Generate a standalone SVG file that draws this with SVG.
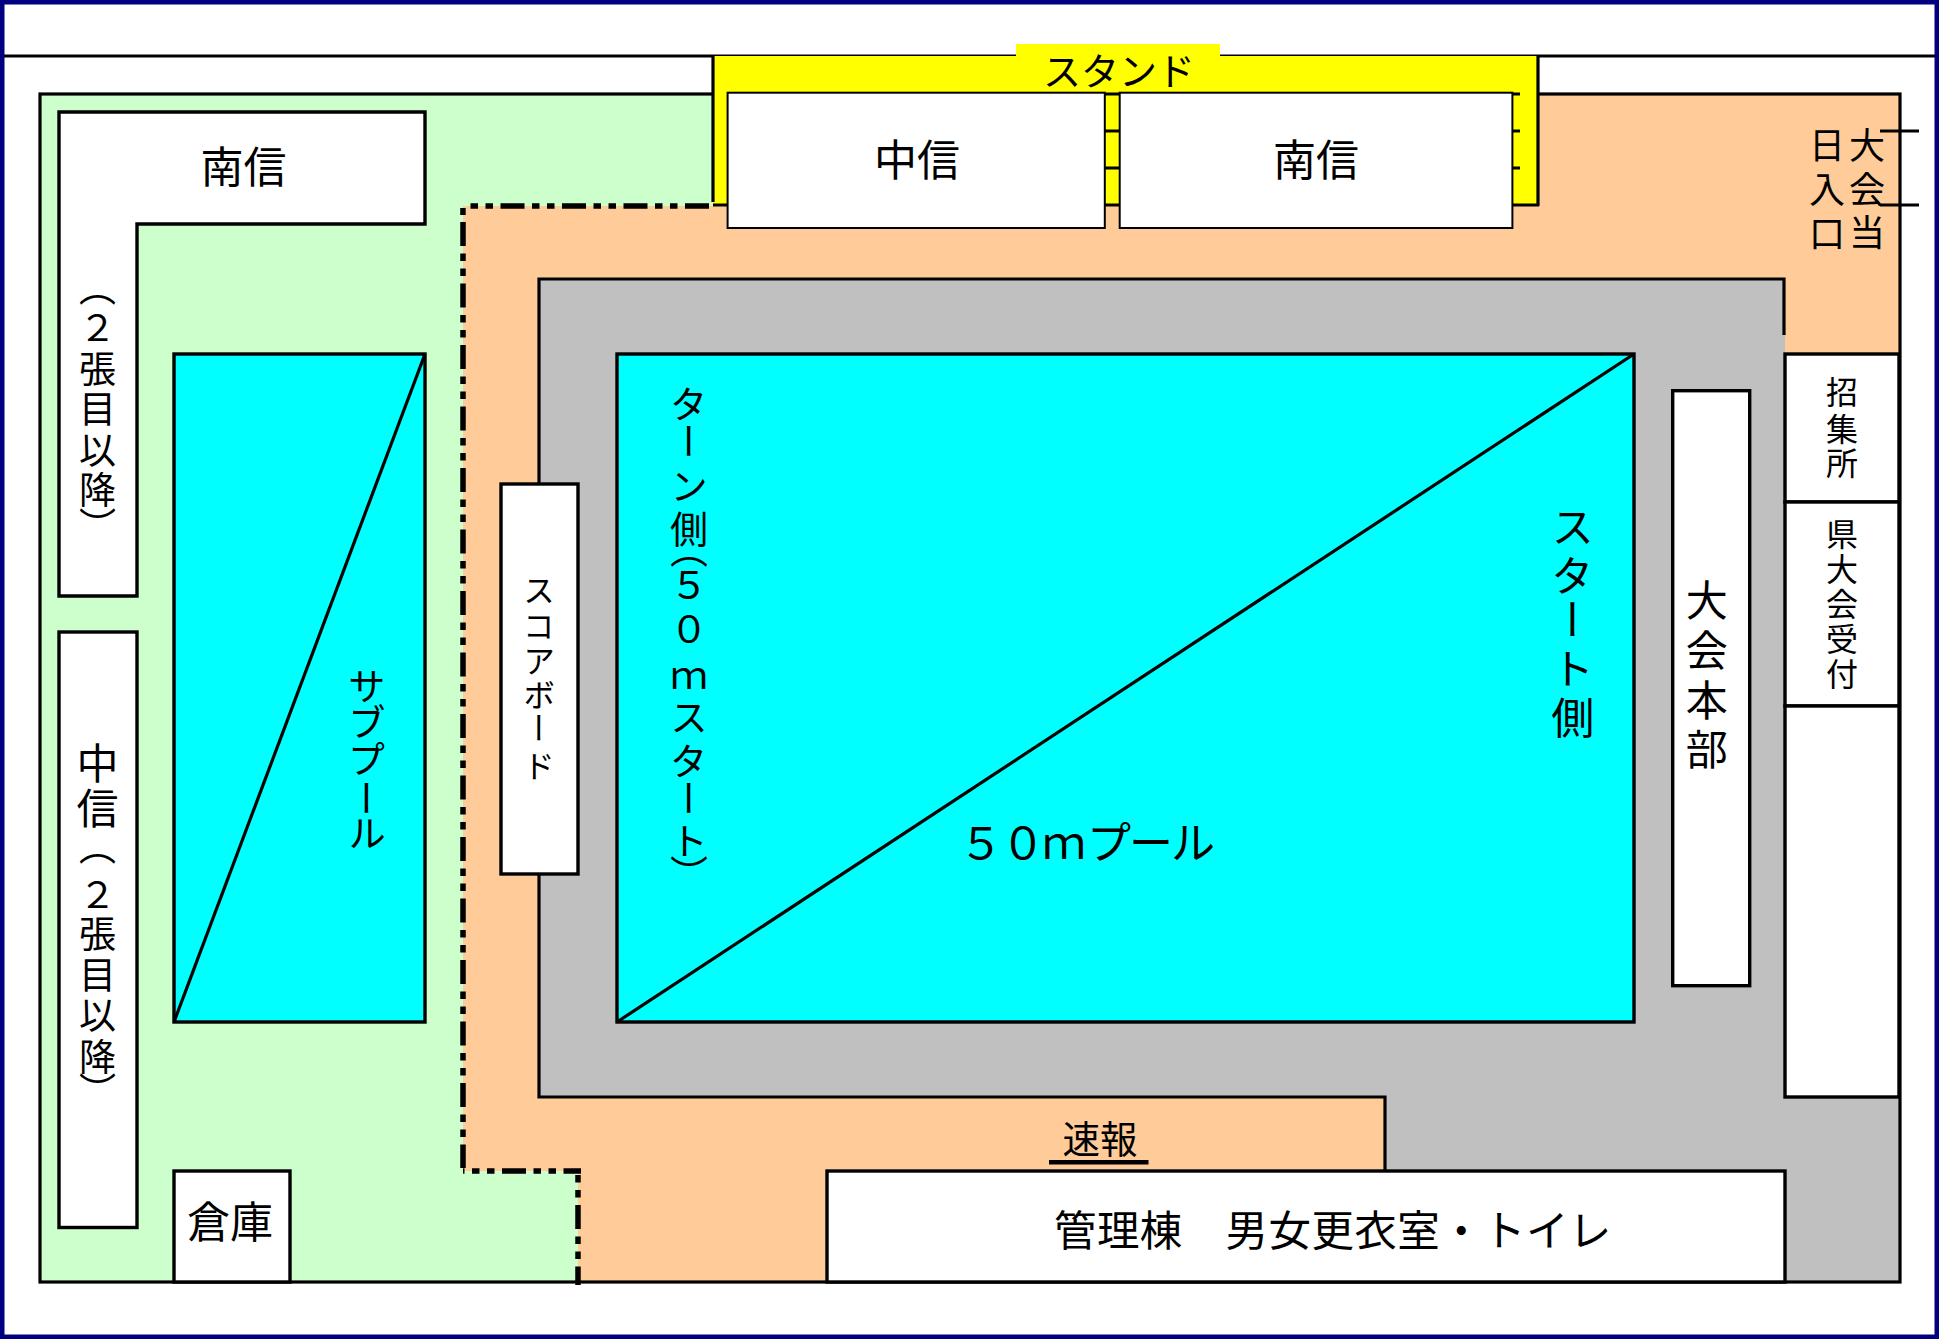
<svg xmlns="http://www.w3.org/2000/svg" width="1939" height="1339" viewBox="0 0 1939 1339">
<style>
text{font-family:"Noto Sans CJK JP","Noto Sans",sans-serif;fill:#000}
.v{writing-mode:vertical-rl}
.m{text-anchor:middle}
.b{stroke:#000;stroke-width:3.4;fill:#fff}
.t{stroke:#000;stroke-width:2;fill:#fff}
.p{stroke:#000;stroke-width:3.4;fill:#0ff}
.l{stroke:#000;stroke-width:3.2;fill:none}
.d{stroke:#000;stroke-width:5.5;fill:none;stroke-dasharray:24 7.5 7.5 7.5 7.5 7.5}
</style>
<rect x="2.25" y="2.25" width="1934.5" height="1334.5" fill="#fff" stroke="#000080" stroke-width="4.5"/>
<path class="l" d="M4 56H1935"/>
<g id="ground">
<rect x="40" y="94" width="1860" height="1188" fill="#cfc"/>
<path d="M463 206H713V94H1900V1282H578V1171H463Z" fill="#fc9"/>
<path d="M539 279H1785V1097H1900V1282H1385V1097H539Z" fill="#c0c0c0"/>
<rect x="40" y="94" width="1860" height="1188" fill="none" stroke="#000" stroke-width="3.2"/>
<path class="l" d="M539 484V279H1784V335M539 874V1097H1385V1171"/>
</g>
<g id="boundary">
<path class="d" d="M709 206H466"/>
<path d="M460.200 208h5.500v7h-5.500z"/>
<path class="d" d="M463 222V1168"/>
<path class="d" style="stroke-dashoffset:22.500" d="M463 1171H581"/>
<path class="d" style="stroke-dashoffset:31.500" d="M578 1175V1285"/>
</g>
<g id="stand">
<path d="M713 56H1538V205H713Z" fill="#ff0"/>
<path class="l" d="M713 56V202M1538 55V206M713 205H1539"/>
<path class="l" d="M1105 94H1120M1105 131H1120M1105 168H1120M1512 94H1520M1512 131H1520M1512 168H1520"/>
<rect x="1016" y="44" width="204" height="15" fill="#ff0"/>
<text class="m" x="1119" y="85" font-size="38">スタンド</text>
</g>
<g id="stand-chushin"><rect class="t" x="727.600" y="92.700" width="377.200" height="135.300"/><text class="m" x="917" y="176" font-size="43">中信</text></g>
<g id="stand-nanshin"><rect class="t" x="1119.700" y="92.700" width="392.700" height="135.300"/><text class="m" x="1316" y="176" font-size="43">南信</text></g>
<g id="tousho">
<text class="v" x="1827" y="127 171 215" font-size="36">日入口</text>
<text class="v" x="1867" y="127 171 214.500" font-size="36">大会当</text>
<path class="l" d="M1880 131H1919M1880 205H1919"/>
</g>
<g id="left-nanshin">
<path class="b" d="M59 112H425V224H137V596H59Z"/>
<text class="m" x="243.500" y="183" font-size="43">南信</text>
<text class="v" x="97.500" y="269 308.500 350.500 390.500 431.500 471.500 507" font-size="37">（２張目以降）</text>
</g>
<g id="left-chushin">
<rect class="b" x="59" y="632" width="78" height="595.500"/>
<text class="v" x="97.500" y="742 787" font-size="42">中信</text>
<text class="v" x="97.500" y="828 875.500 915.500 956.500 996.500 1038.500 1072" font-size="37">（２張目以降）</text>
</g>
<g id="sub-pool">
<rect class="p" x="174" y="354" width="251" height="668"/>
<path class="l" d="M174 1022L425 354"/>
<text class="v" x="366.700" y="667 702.500 739.500 779 814" font-size="38">サブプール</text>
</g>
<g id="pool">
<rect class="p" x="617" y="354" width="1017" height="668"/>
<path class="l" d="M617 1022L1634 354"/>
<text class="v" x="689" y="384.600 422 467 510 530 566 610 659 698 742 779 822 855" font-size="38">ターン側（５０ｍスタート）</text>
<text class="v" x="1572.700" y="505 554 598 647 696" font-size="43">スタート側</text>
<text x="959 1001 1042 1087 1129 1171" y="859" font-size="44">５０ｍプール</text>
</g>
<g id="scoreboard">
<rect class="b" x="501" y="484" width="77" height="390"/>
<text class="v" x="539" y="573.500 610 645 679 711.500 750" font-size="32">スコアボード</text>
</g>
<g id="honbu">
<rect class="b" x="1672.700" y="390.700" width="77" height="595"/>
<text class="v" x="1706.700" y="579 629 679 728" font-size="42">大会本部</text>
</g>
<g id="shoshu">
<rect class="b" x="1785" y="354" width="114" height="148"/>
<text class="v" x="1842" y="376 412.500 446.500" font-size="32">招集所</text>
</g>
<g id="uketsuke">
<rect class="b" x="1785" y="502" width="114" height="204"/>
<text class="v" x="1842" y="517.500 553 588 623 658" font-size="32">県大会受付</text>
</g>
<g id="right-box"><rect class="b" x="1785" y="706" width="114" height="391"/></g>
<g id="soko">
<rect class="b" x="174" y="1171" width="116" height="111"/>
<text class="m" x="230" y="1238" font-size="43">倉庫</text>
</g>
<g id="sokuho">
<text class="m" x="1100" y="1153" font-size="37.500">速報</text>
<rect x="1049" y="1160" width="99.500" height="4.500"/>
</g>
<g id="kanri">
<rect class="b" x="827" y="1171" width="958" height="111"/>
<text x="1054" y="1246" font-size="42.500" letter-spacing=".4">管理棟　男女更衣室・トイレ</text>
</g>
</svg>
